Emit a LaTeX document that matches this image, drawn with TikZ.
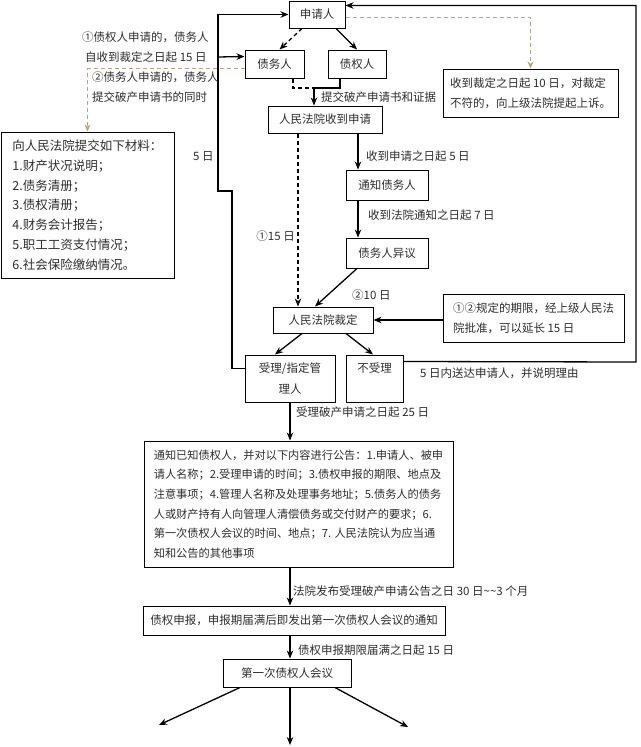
\documentclass[tikz,border=0pt]{standalone}
\usepackage{fontspec}
\setmainfont{Noto Sans CJK SC}
\usetikzlibrary{arrows.meta}
\definecolor{txt}{RGB}{45,45,45}
\definecolor{tanc}{RGB}{185,165,130}
\begin{document}
\begin{tikzpicture}[x=1pt,y=-1pt,
  box/.style={draw=black, line width=1pt, inner sep=0pt, align=center, font=\fontsize{11.5}{20}\selectfont, text=txt},
  conn/.style={draw=black, line width=1.3pt},
  arr/.style={conn, -{Stealth[length=8pt,width=6.5pt]}},
  dsh/.style={dash pattern=on 4pt off 3pt},
  tanl/.style={draw=tanc, line width=1.1pt, dash pattern=on 4pt off 3pt, -{Stealth[length=7pt,width=6pt]}},
  lbl/.style={font=\fontsize{11.5}{20}\selectfont, text=txt, inner sep=0pt, anchor=west},
]
\useasboundingbox (0,0) rectangle (640,747);

% boxes
\node[box, minimum width=56, minimum height=27] (sq) at (317,14.5) {申请人};
\node[box, minimum width=59, minimum height=28] (zw) at (274.5,64) {债务人};
\node[box, minimum width=58, minimum height=28] (zq) at (357,64) {债权人};
\node[box, minimum width=114, minimum height=27] (sd) at (325,119.5) {人民法院收到申请};
\node[box, minimum width=175, minimum height=48, align=left] (ap) at (530.5,93) {收到裁定之日起 10 日，对裁定\\不符的，向上级法院提起上诉。};
\node[box, minimum width=173, minimum height=146, align=left, font=\fontsize{12.5}{19.8}\selectfont] (mt) at (87.5,205) {向人民法院提交如下材料：\\1.财产状况说明；\\2.债务清册；\\3.债权清册；\\4.财务会计报告；\\5.职工工资支付情况；\\6.社会保险缴纳情况。};
\node[box, minimum width=82, minimum height=30] (tz) at (387,185) {通知债务人};
\node[box, minimum width=82, minimum height=30] (yy) at (387,253) {债务人异议};
\node[box, minimum width=100, minimum height=26] (cd) at (323,320) {人民法院裁定};
\node[box, minimum width=181, minimum height=48, align=left] (ex) at (533.5,318) {①②规定的期限，经上级人民法\\院批准，可以延长 15 日};
\node[box, minimum width=90, minimum height=47, font=\fontsize{11.5}{21}\selectfont] (sl) at (290,378.5) {受理/指定管\\理人};
\node[box, minimum width=57, minimum height=47, font=\fontsize{11.5}{21}\selectfont] (bs) at (374.5,378.5) {不受理\\\phantom{理}};
\node[box, minimum width=309, minimum height=126, align=left, font=\fontsize{11.2}{19.6}\selectfont] (bg) at (298.5,504) {通知已知债权人，并对以下内容进行公告：1.申请人、被申\\请人名称；2.受理申请的时间；3.债权申报的期限、地点及\\注意事项；4.管理人名称及处理事务地址；5.债务人的债务\\人或财产持有人向管理人清偿债务或交付财产的要求；6.\\第一次债权人会议的时间、地点；7. 人民法院认为应当通\\知和公告的其他事项};
\node[box, minimum width=302, minimum height=29] (zb) at (294,620.5) {债权申报，申报期届满后即发出第一次债权人会议的通知};
\node[box, minimum width=128, minimum height=28] (dy) at (287,673) {第一次债权人会议};

% feedback loops
\coordinate (f1) at (232,191);
\coordinate (f2) at (218,191);
\coordinate (f3) at (218,57);
\draw[conn] ([yshift=-14pt]sl.north west) -| (f1) -- (f2) -- (f3);
\draw[arr] (f3) |- (sq.west);
\draw[arr] (f3) -- ([yshift=-7pt]zw.north west);
\coordinate (r1) at (636,362);
\draw[arr] ([yshift=-7pt]bs.north east) -- (r1) |- ([yshift=-5pt]sq.north east);

% tan dashed
\draw[tanl] ([yshift=-17pt]sq.north east) -| (ap.north);
\draw[tanl] ([yshift=-19pt]zw.north west) -| (mt.north);

% top
\draw[arr, dsh] ([xshift=-15pt]sq.south) -- ([xshift=5pt]zw.north);
\draw[arr] ([xshift=19pt]sq.south) -- (zq.north);
\coordinate (j) at (314,88);
\draw[conn, dsh] ([xshift=18.5pt]zw.south) |- (j);
\draw[conn] ([xshift=-17pt]zq.south) |- (j);
\draw[arr] (j) -- (j |- sd.north);

% middle
\draw[arr, dsh] ([xshift=-27pt]sd.south) -- ([xshift=-27pt]sd.south |- cd.north);
\draw[arr] ([xshift=33pt]sd.south) -- ([xshift=33pt]sd.south |- tz.north);
\draw[arr] ([xshift=33pt]sd.south |- tz.south) -- ([xshift=33pt]sd.south |- yy.north);
\draw[arr] ([xshift=-30pt]yy.south) -- ([xshift=-8pt]cd.north);
\draw[arr] (ex.west |- cd.east) -- (cd.east);
\draw[arr] ([xshift=-21pt]cd.south) -- ([xshift=-15pt]sl.north);
\draw[arr] ([xshift=23pt]cd.south) -- ([xshift=-1.5pt]bs.north);

% lower
\draw[arr] (sl.south) -- (sl.south |- bg.north);
\draw[arr] (sl.south |- bg.south) -- (sl.south |- zb.north);
\draw[arr] (sl.south |- zb.south) -- (sl.south |- dy.north);
\coordinate (e1) at (159,725);
\coordinate (e2) at (290,745);
\coordinate (e3) at (408,727);
\draw[arr] ([xshift=-47pt]dy.south) -- (e1);
\draw[arr] (sl.south |- dy.south) -- (e2);
\draw[arr] ([xshift=48pt]dy.south) -- (e3);

% labels
\node[lbl] (t1) at (82,37) {①债权人申请的，债务人};
\node[lbl] (t2) at (85,57) {自收到裁定之日起 15 日};
\node[lbl] (t3) at (92,77) {②债务人申请的，债务人};
\node[lbl] (t4) at (92,97) {提交破产申请书的同时};
\node[lbl] (t5) at (321,97) {提交破产申请书和证据};
\node[lbl] (t6) at (193,156) {5 日};
\node[lbl] (t7) at (366,156) {收到申请之日起 5 日};
\node[lbl] (t8) at (368,215) {收到法院通知之日起 7 日};
\node[lbl, anchor=east] (t9) at (295,236) {①15 日};
\node[lbl] (t10) at (352,295) {②10 日};
\node[lbl] (t11) at (420,373) {5 日内送达申请人，并说明理由};
\node[lbl] (t12) at (296,412) {受理破产申请之日起 25 日};
\node[lbl] (t13) at (293,591) {法院发布受理破产申请公告之日 30 日\textasciitilde\textasciitilde 3 个月};
\node[lbl] (t14) at (298,650) {债权申报期限届满之日起 15 日};
\end{tikzpicture}
\end{document}
